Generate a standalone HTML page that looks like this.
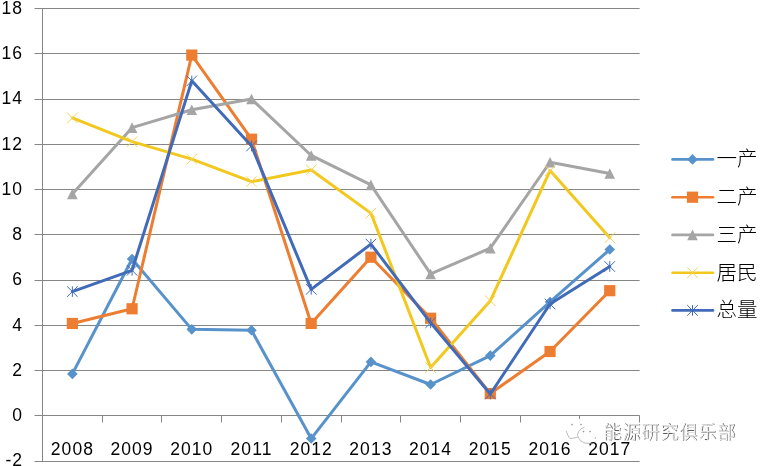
<!DOCTYPE html>
<html><head><meta charset="utf-8"><title>chart</title>
<style>
html,body{margin:0;padding:0;background:#fff;}
body{width:760px;height:466px;overflow:hidden;position:relative;}
svg{position:absolute;left:0;top:0;display:block;}
.ax{font-family:"Liberation Sans","Noto Sans CJK SC",sans-serif;font-size:17.5px;fill:#000;}
.lg{font-family:"Liberation Sans","Noto Sans CJK SC",sans-serif;font-size:20.5px;font-weight:300;fill:#000;}
.wm{font-family:"Liberation Sans","Noto Sans CJK SC",sans-serif;font-size:18px;fill:#fff;}
</style></head><body>
<svg width="760" height="466" viewBox="0 0 760 466">
<rect width="760" height="466" fill="#fff"/>

<path d="M34.5,8.5 H639.6 M34.5,53.5 H639.6 M34.5,99.5 H639.6 M34.5,144.5 H639.6 M34.5,189.5 H639.6 M34.5,234.5 H639.6 M34.5,280.5 H639.6 M34.5,325.5 H639.6 M34.5,370.5 H639.6 M34.5,415.5 H639.6 M34.5,461.5 H639.6" stroke="#868686" stroke-width="1" fill="none"/>
<path d="M42.5,8.0 V462" stroke="#868686" stroke-width="1" fill="none"/>
<path d="M42.5,415.5 V422.5 M102.5,415.5 V422.5 M161.5,415.5 V422.5 M221.5,415.5 V422.5 M281.5,415.5 V422.5 M341.5,415.5 V422.5 M400.5,415.5 V422.5 M460.5,415.5 V422.5 M520.5,415.5 V422.5 M579.5,415.5 V422.5 M639.5,415.5 V422.5" stroke="#868686" stroke-width="1" fill="none"/>
<text class="ax" x="23.0" y="13.9" text-anchor="end" letter-spacing="1">18</text>
<text class="ax" x="23.0" y="59.1" text-anchor="end" letter-spacing="1">16</text>
<text class="ax" x="23.0" y="104.3" text-anchor="end" letter-spacing="1">14</text>
<text class="ax" x="23.0" y="149.6" text-anchor="end" letter-spacing="1">12</text>
<text class="ax" x="23.0" y="194.8" text-anchor="end" letter-spacing="1">10</text>
<text class="ax" x="23.0" y="240.0" text-anchor="end" letter-spacing="1">8</text>
<text class="ax" x="23.0" y="285.2" text-anchor="end" letter-spacing="1">6</text>
<text class="ax" x="23.0" y="330.5" text-anchor="end" letter-spacing="1">4</text>
<text class="ax" x="23.0" y="375.7" text-anchor="end" letter-spacing="1">2</text>
<text class="ax" x="23.0" y="420.9" text-anchor="end" letter-spacing="1">0</text>
<text class="ax" x="23.0" y="466.1" text-anchor="end" letter-spacing="1">-2</text>
<text class="ax" x="72.4" y="454.5" text-anchor="middle" letter-spacing="1.05">2008</text>
<text class="ax" x="132.1" y="454.5" text-anchor="middle" letter-spacing="1.05">2009</text>
<text class="ax" x="191.8" y="454.5" text-anchor="middle" letter-spacing="1.05">2010</text>
<text class="ax" x="251.5" y="454.5" text-anchor="middle" letter-spacing="1.05">2011</text>
<text class="ax" x="311.2" y="454.5" text-anchor="middle" letter-spacing="1.05">2012</text>
<text class="ax" x="370.9" y="454.5" text-anchor="middle" letter-spacing="1.05">2013</text>
<text class="ax" x="430.6" y="454.5" text-anchor="middle" letter-spacing="1.05">2014</text>
<text class="ax" x="490.3" y="454.5" text-anchor="middle" letter-spacing="1.05">2015</text>
<text class="ax" x="550.0" y="454.5" text-anchor="middle" letter-spacing="1.05">2016</text>
<text class="ax" x="609.7" y="454.5" text-anchor="middle" letter-spacing="1.05">2017</text>
<polyline points="72.36,373.90 132.06,259.03 191.78,329.35 251.49,330.26 311.19,438.56 370.91,361.91 430.62,384.52 490.32,355.58 550.04,301.99 609.75,249.53" stroke="#5892CB" stroke-width="3" fill="none" stroke-linejoin="round" stroke-linecap="round"/>
<path d="M72.36,368.60 L77.66,373.90 L72.36,379.20 L67.06,373.90Z" fill="#5892CB"/>
<path d="M132.06,253.73 L137.37,259.03 L132.06,264.33 L126.77,259.03Z" fill="#5892CB"/>
<path d="M191.78,324.05 L197.08,329.35 L191.78,334.65 L186.47,329.35Z" fill="#5892CB"/>
<path d="M251.49,324.96 L256.79,330.26 L251.49,335.56 L246.19,330.26Z" fill="#5892CB"/>
<path d="M311.19,433.26 L316.50,438.56 L311.19,443.86 L305.89,438.56Z" fill="#5892CB"/>
<path d="M370.91,356.61 L376.21,361.91 L370.91,367.21 L365.61,361.91Z" fill="#5892CB"/>
<path d="M430.62,379.22 L435.92,384.52 L430.62,389.82 L425.31,384.52Z" fill="#5892CB"/>
<path d="M490.32,350.28 L495.62,355.58 L490.32,360.88 L485.02,355.58Z" fill="#5892CB"/>
<path d="M550.04,296.69 L555.34,301.99 L550.04,307.29 L544.74,301.99Z" fill="#5892CB"/>
<path d="M609.75,244.23 L615.04,249.53 L609.75,254.83 L604.45,249.53Z" fill="#5892CB"/>
<polyline points="72.36,323.47 132.06,308.78 191.78,55.08 251.49,139.19 311.19,323.47 370.91,257.22 430.62,318.27 490.32,393.57 550.04,351.51 609.75,290.69" stroke="#ED7D31" stroke-width="3" fill="none" stroke-linejoin="round" stroke-linecap="round"/>
<rect x="66.76" y="317.87" width="11.20" height="11.20" fill="#ED7D31"/>
<rect x="126.47" y="303.18" width="11.20" height="11.20" fill="#ED7D31"/>
<rect x="186.18" y="49.48" width="11.20" height="11.20" fill="#ED7D31"/>
<rect x="245.89" y="133.59" width="11.20" height="11.20" fill="#ED7D31"/>
<rect x="305.59" y="317.87" width="11.20" height="11.20" fill="#ED7D31"/>
<rect x="365.31" y="251.62" width="11.20" height="11.20" fill="#ED7D31"/>
<rect x="425.01" y="312.67" width="11.20" height="11.20" fill="#ED7D31"/>
<rect x="484.72" y="387.97" width="11.20" height="11.20" fill="#ED7D31"/>
<rect x="544.44" y="345.91" width="11.20" height="11.20" fill="#ED7D31"/>
<rect x="604.14" y="285.09" width="11.20" height="11.20" fill="#ED7D31"/>
<polyline points="72.36,193.91 132.06,127.66 191.78,109.80 251.49,98.94 311.19,155.47 370.91,184.87 430.62,273.95 490.32,248.18 550.04,162.26 609.75,173.56" stroke="#A5A5A5" stroke-width="3" fill="none" stroke-linejoin="round" stroke-linecap="round"/>
<path d="M72.36,188.61 L77.66,199.21 L67.06,199.21Z" fill="#A5A5A5"/>
<path d="M132.06,122.36 L137.37,132.96 L126.77,132.96Z" fill="#A5A5A5"/>
<path d="M191.78,104.50 L197.08,115.10 L186.47,115.10Z" fill="#A5A5A5"/>
<path d="M251.49,93.64 L256.79,104.24 L246.19,104.24Z" fill="#A5A5A5"/>
<path d="M311.19,150.17 L316.50,160.77 L305.89,160.77Z" fill="#A5A5A5"/>
<path d="M370.91,179.57 L376.21,190.17 L365.61,190.17Z" fill="#A5A5A5"/>
<path d="M430.62,268.65 L435.92,279.25 L425.31,279.25Z" fill="#A5A5A5"/>
<path d="M490.32,242.88 L495.62,253.48 L485.02,253.48Z" fill="#A5A5A5"/>
<path d="M550.04,156.96 L555.34,167.56 L544.74,167.56Z" fill="#A5A5A5"/>
<path d="M609.75,168.26 L615.04,178.86 L604.45,178.86Z" fill="#A5A5A5"/>
<polyline points="72.36,117.94 132.06,141.68 191.78,159.09 251.49,181.70 311.19,169.94 370.91,213.13 430.62,367.56 490.32,300.86 550.04,170.62 609.75,237.78" stroke="#F2C81E" stroke-width="3" fill="none" stroke-linejoin="round" stroke-linecap="round"/>
<path d="M67.06,112.64 L77.66,123.24 M77.66,112.64 L67.06,123.24" stroke="#F4D35A" stroke-width="1" fill="none"/>
<path d="M126.77,136.38 L137.37,146.98 M137.37,136.38 L126.77,146.98" stroke="#F4D35A" stroke-width="1" fill="none"/>
<path d="M186.47,153.79 L197.08,164.39 M197.08,153.79 L186.47,164.39" stroke="#F4D35A" stroke-width="1" fill="none"/>
<path d="M246.19,176.40 L256.79,187.00 M256.79,176.40 L246.19,187.00" stroke="#F4D35A" stroke-width="1" fill="none"/>
<path d="M305.89,164.64 L316.50,175.24 M316.50,164.64 L305.89,175.24" stroke="#F4D35A" stroke-width="1" fill="none"/>
<path d="M365.61,207.83 L376.21,218.43 M376.21,207.83 L365.61,218.43" stroke="#F4D35A" stroke-width="1" fill="none"/>
<path d="M425.31,362.26 L435.92,372.86 M435.92,362.26 L425.31,372.86" stroke="#F4D35A" stroke-width="1" fill="none"/>
<path d="M485.02,295.56 L495.62,306.16 M495.62,295.56 L485.02,306.16" stroke="#F4D35A" stroke-width="1" fill="none"/>
<path d="M544.74,165.32 L555.34,175.92 M555.34,165.32 L544.74,175.92" stroke="#F4D35A" stroke-width="1" fill="none"/>
<path d="M604.45,232.48 L615.04,243.08 M615.04,232.48 L604.45,243.08" stroke="#F4D35A" stroke-width="1" fill="none"/>
<polyline points="72.36,291.59 132.06,270.34 191.78,80.86 251.49,145.98 311.19,289.33 370.91,244.11 430.62,322.79 490.32,394.02 550.04,304.03 609.75,266.49" stroke="#416BB8" stroke-width="3" fill="none" stroke-linejoin="round" stroke-linecap="round"/>
<path d="M67.06,286.29 L77.66,296.89 M77.66,286.29 L67.06,296.89 M72.36,286.29 L72.36,296.89" stroke="#416BB8" stroke-width="1" fill="none"/>
<path d="M126.77,265.04 L137.37,275.64 M137.37,265.04 L126.77,275.64 M132.06,265.04 L132.06,275.64" stroke="#416BB8" stroke-width="1" fill="none"/>
<path d="M186.47,75.56 L197.08,86.16 M197.08,75.56 L186.47,86.16 M191.78,75.56 L191.78,86.16" stroke="#416BB8" stroke-width="1" fill="none"/>
<path d="M246.19,140.68 L256.79,151.28 M256.79,140.68 L246.19,151.28 M251.49,140.68 L251.49,151.28" stroke="#416BB8" stroke-width="1" fill="none"/>
<path d="M305.89,284.03 L316.50,294.63 M316.50,284.03 L305.89,294.63 M311.19,284.03 L311.19,294.63" stroke="#416BB8" stroke-width="1" fill="none"/>
<path d="M365.61,238.81 L376.21,249.41 M376.21,238.81 L365.61,249.41 M370.91,238.81 L370.91,249.41" stroke="#416BB8" stroke-width="1" fill="none"/>
<path d="M425.31,317.49 L435.92,328.09 M435.92,317.49 L425.31,328.09 M430.62,317.49 L430.62,328.09" stroke="#416BB8" stroke-width="1" fill="none"/>
<path d="M485.02,388.72 L495.62,399.32 M495.62,388.72 L485.02,399.32 M490.32,388.72 L490.32,399.32" stroke="#416BB8" stroke-width="1" fill="none"/>
<path d="M544.74,298.73 L555.34,309.33 M555.34,298.73 L544.74,309.33 M550.04,298.73 L550.04,309.33" stroke="#416BB8" stroke-width="1" fill="none"/>
<path d="M604.45,261.19 L615.04,271.79 M615.04,261.19 L604.45,271.79 M609.75,261.19 L609.75,271.79" stroke="#416BB8" stroke-width="1" fill="none"/>
<line x1="672.5" y1="159.4" x2="713" y2="159.4" stroke="#5892CB" stroke-width="2.6" stroke-linecap="round"/>
<path d="M692.50,154.10 L697.80,159.40 L692.50,164.70 L687.20,159.40Z" fill="#5892CB"/>
<text class="lg" x="716.5" y="166.4">一产</text>
<line x1="672.5" y1="197.2" x2="713" y2="197.2" stroke="#ED7D31" stroke-width="2.6" stroke-linecap="round"/>
<rect x="686.90" y="191.60" width="11.20" height="11.20" fill="#ED7D31"/>
<text class="lg" x="716.5" y="204.2">二产</text>
<line x1="672.5" y1="234.9" x2="713" y2="234.9" stroke="#A5A5A5" stroke-width="2.6" stroke-linecap="round"/>
<path d="M692.50,229.60 L697.80,240.20 L687.20,240.20Z" fill="#A5A5A5"/>
<text class="lg" x="716.5" y="241.9">三产</text>
<line x1="672.5" y1="272.7" x2="713" y2="272.7" stroke="#F2C81E" stroke-width="2.6" stroke-linecap="round"/>
<path d="M687.20,267.40 L697.80,278.00 M697.80,267.40 L687.20,278.00" stroke="#F4D35A" stroke-width="1" fill="none"/>
<text class="lg" x="716.5" y="279.7">居民</text>
<line x1="672.5" y1="310.4" x2="713" y2="310.4" stroke="#416BB8" stroke-width="2.6" stroke-linecap="round"/>
<path d="M687.20,305.10 L697.80,315.70 M697.80,305.10 L687.20,315.70 M692.50,305.10 L692.50,315.70" stroke="#416BB8" stroke-width="1" fill="none"/>
<text class="lg" x="716.5" y="317.4">总量</text>
<ellipse cx="577" cy="429" rx="11.5" ry="10.4" fill="#fff"/><ellipse cx="586.5" cy="435" rx="9" ry="7.2" fill="#fff"/>
<g fill="none" stroke="#8a8a8a" stroke-width="0.8" opacity="0.75">
<path d="M566.2,431 C567.5,434.5 568.5,437 570,438.6 L577.5,437.3"/>
<path d="M584.5,427.3 C580,428.5 577.5,432 577.6,435.5 C579,440 582.5,443 587,443.3 L593,443.6"/>
<path d="M595.6,437.2 L595,439"/>
</g>
<g fill="#777" opacity="0.8">
<circle cx="572" cy="424.6" r="0.8"/><circle cx="581" cy="424.6" r="0.8"/>
<circle cx="583.5" cy="431.6" r="0.8"/><circle cx="590" cy="431.6" r="0.8"/>
</g>
<text class="wm" x="604.1" y="439.2" letter-spacing="1.0" style="fill:#5c5c5c">能源研究俱乐部</text>
<text class="wm" x="603.5" y="438.7" letter-spacing="1.0" style="font-weight:300">能源研究俱乐部</text>
</svg>
</body></html>
